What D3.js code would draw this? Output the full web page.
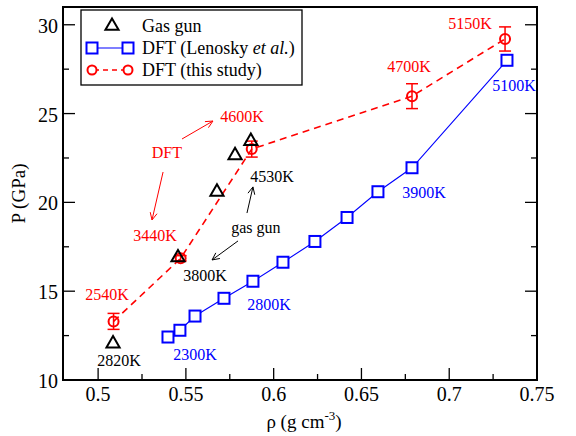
<!DOCTYPE html>
<html>
<head>
<meta charset="utf-8">
<script src="https://cdn.jsdelivr.net/npm/d3@7/dist/d3.min.js"></script>
<style>
  body { margin: 0; background: #fff; }
</style>
</head>
<body>
<div id="chart"></div>
<script>
// gas gun measurements
const gunRho = [0.5085, 0.5455, 0.5677, 0.578, 0.587];
const gunP = [12.1, 16.95, 20.65, 22.7, 23.5];

// DFT (Lenosky et al.)
const lenRho = [0.5398, 0.5466, 0.5552, 0.5717, 0.5882, 0.6053, 0.6235, 0.6418, 0.6594, 0.6788, 0.7329];
const lenP = [12.42, 12.8, 13.6, 14.6, 15.56, 16.63, 17.8, 19.15, 20.6, 21.95, 28.0];

// DFT (this study)
const dftRho = [0.5088, 0.547, 0.5875, 0.6788, 0.7318];
const dftP = [13.3, 16.85, 23.0, 25.98, 29.2];
const dftErr = [0.45, 0.15, 0.45, 0.7, 0.68];

const xTicks = [0.5, 0.55, 0.6, 0.65, 0.7, 0.75];
const yTicks = [10, 15, 20, 25, 30];

// temperature labels [text, rho, P]
const redLabels = [["2540K", 0.5051, 14.5], ["3440K", 0.5324, 17.83], ["4600K", 0.582, 24.53], ["4700K", 0.6771, 27.34], ["5150K", 0.7118, 29.76]];
const blackLabels = [["2820K", 0.5119, 10.79], ["3800K", 0.5609, 15.57], ["4530K", 0.599, 21.15]];
const blueLabels = [["2300K", 0.5552, 11.13], ["2800K", 0.5973, 13.94], ["3900K", 0.6856, 20.25], ["5100K", 0.7369, 26.27]];

function plot (el) {
    const width = 576, height = 436;
    const m = { top: 7, left: 63, right: 39, bottom: 56 };
    const w = width - m.left - m.right;
    const h = height - m.top - m.bottom;

    const svg = d3.select(el).append('svg')
        .attr('width', width)
        .attr('height', height)
        .attr('font-family', '"Liberation Serif", "Times New Roman", Times, serif')
        .style('font-family', '"Liberation Serif", "Times New Roman", Times, serif');

    const x = d3.scaleLinear().domain([0.48, 0.75]).range([0, w]);
    const y = d3.scaleLinear().domain([10, 31]).range([h, 0]);

    const g = svg.append('g')
        .attr('transform', 'translate(' + m.left + ',' + m.top + ')');

    // ticks: left, bottom, right (inward), no top
    const xMinor = d3.range(0.475, 0.751, 0.025).filter(v => v > 0.48 && v < 0.75);
    const yMinor = d3.range(10, 31, 2.5);

    xMinor.forEach(v => {
        const major = xTicks.some(t => Math.abs(t - v) < 1e-6);
        g.append('line')
            .attr('x1', x(v)).attr('x2', x(v))
            .attr('y1', h).attr('y2', h - (major ? 12 : 6))
            .attr('stroke', '#000').attr('stroke-width', 1.3);
    });
    yMinor.forEach(v => {
        const major = yTicks.indexOf(v) >= 0;
        const len = major ? 12 : 6;
        g.append('line')
            .attr('x1', 0).attr('x2', len)
            .attr('y1', y(v)).attr('y2', y(v))
            .attr('stroke', '#000').attr('stroke-width', 1.3);
        g.append('line')
            .attr('x1', w).attr('x2', w - len)
            .attr('y1', y(v)).attr('y2', y(v))
            .attr('stroke', '#000').attr('stroke-width', 1.3);
    });

    g.selectAll('text.xt')
        .data(xTicks)
        .enter()
        .append('text')
        .attr('class', 'xt')
        .attr('x', d => x(d))
        .attr('y', h + 21)
        .attr('text-anchor', 'middle')
        .attr('font-size', 20)
        .text(d => d3.format('~g')(d));

    g.selectAll('text.yt')
        .data(yTicks)
        .enter()
        .append('text')
        .attr('class', 'yt')
        .attr('x', -5)
        .attr('y', d => y(d) + 8)
        .attr('text-anchor', 'end')
        .attr('font-size', 20)
        .text(d => d);

    // axis titles
    const xt = svg.append('text')
        .attr('x', m.left + w / 2 + 4)
        .attr('y', 428)
        .attr('text-anchor', 'middle')
        .attr('font-size', 19);
    xt.append('tspan').text('ρ (g cm');
    xt.append('tspan').attr('font-size', 13).attr('dy', -8).text('-3');
    xt.append('tspan').attr('dy', 8).text(')');

    svg.append('text')
        .attr('transform', 'translate(25,' + (m.top + h / 2) + ') rotate(-90)')
        .attr('text-anchor', 'middle')
        .attr('font-size', 19)
        .text('P (GPa)');

    // Lenosky line + squares
    const lenData = lenRho.map((r, i) => ({ x: r, y: lenP[i] }));
    const line = d3.line().x(d => x(d.x)).y(d => y(d.y));
    g.append('path')
        .datum(lenData)
        .attr('d', line)
        .attr('fill', 'none')
        .attr('stroke', '#0000ff')
        .attr('stroke-width', 1.1);
    g.selectAll('rect.len')
        .data(lenData)
        .enter()
        .append('rect')
        .attr('class', 'len')
        .attr('x', d => x(d.x) - 5.5)
        .attr('y', d => y(d.y) - 5.5)
        .attr('width', 11)
        .attr('height', 11)
        .attr('fill', '#fff')
        .attr('stroke', '#0000ff')
        .attr('stroke-width', 2);

    // this study: dashed line, error bars, circles
    const dftData = dftRho.map((r, i) => ({ x: r, y: dftP[i], e: dftErr[i] }));
    g.append('path')
        .datum(dftData)
        .attr('d', line)
        .attr('fill', 'none')
        .attr('stroke', '#ff0000')
        .attr('stroke-width', 1.6)
        .attr('stroke-dasharray', '7,5');

    const eb = g.selectAll('g.err')
        .data(dftData)
        .enter()
        .append('g')
        .attr('class', 'err')
        .attr('stroke', '#ff0000')
        .attr('stroke-width', 1.5);
    eb.append('line')
        .attr('x1', d => x(d.x)).attr('x2', d => x(d.x))
        .attr('y1', d => y(d.y + d.e)).attr('y2', d => y(d.y - d.e));
    eb.append('line')
        .attr('x1', d => x(d.x) - 6).attr('x2', d => x(d.x) + 6)
        .attr('y1', d => y(d.y + d.e)).attr('y2', d => y(d.y + d.e));
    eb.append('line')
        .attr('x1', d => x(d.x) - 6).attr('x2', d => x(d.x) + 6)
        .attr('y1', d => y(d.y - d.e)).attr('y2', d => y(d.y - d.e));

    g.selectAll('circle.dft')
        .data(dftData)
        .enter()
        .append('circle')
        .attr('class', 'dft')
        .attr('cx', d => x(d.x))
        .attr('cy', d => y(d.y))
        .attr('r', 5)
        .attr('fill', 'none')
        .attr('stroke', '#ff0000')
        .attr('stroke-width', 2);

    // gas gun triangles
    const tri = d3.symbol().type(d3.symbolTriangle).size(75);
    g.selectAll('path.gun')
        .data(gunRho.map((r, i) => ({ x: r, y: gunP[i] })))
        .enter()
        .append('path')
        .attr('class', 'gun')
        .attr('d', tri)
        .attr('transform', d => 'translate(' + x(d.x) + ',' + (y(d.y) + 1) + ')')
        .attr('fill', 'none')
        .attr('stroke', '#000')
        .attr('stroke-width', 2);

    // temperature labels
    function labels (list, color) {
        list.forEach(l => {
            g.append('text')
                .attr('x', x(l[1]))
                .attr('y', y(l[2]))
                .attr('text-anchor', 'middle')
                .attr('font-size', 16)
                .attr('fill', color)
                .text(l[0]);
        });
    }
    labels(redLabels, '#ff0000');
    labels(blackLabels, '#000');
    labels(blueLabels, '#0000ff');

    g.append('text')
        .attr('x', x(0.5392)).attr('y', y(22.5))
        .attr('text-anchor', 'middle')
        .attr('font-size', 16)
        .attr('fill', '#ff0000')
        .text('DFT');
    g.append('text')
        .attr('x', x(0.5899)).attr('y', y(18.28))
        .attr('text-anchor', 'middle')
        .attr('font-size', 16)
        .attr('fill', '#000')
        .text('gas gun');

    // arrows [x1, y1, x2, y2] in data units
    const arrowsRed = [[0.5478, 23.57, 0.5654, 24.58], [0.537, 21.71, 0.5307, 19.01]];
    const arrowsBlack = [[0.5848, 19.4, 0.5882, 20.87], [0.5797, 17.83, 0.5649, 16.76]];
    function arrow (a, color) {
        const x1 = x(a[0]), y1 = y(a[1]), x2 = x(a[2]), y2 = y(a[3]);
        const ang = Math.atan2(y2 - y1, x2 - x1);
        const hl = 8, hw = 0.45;
        g.append('path')
            .attr('d', 'M' + x1 + ',' + y1 + 'L' + x2 + ',' + y2 +
                'M' + (x2 - hl * Math.cos(ang - hw)) + ',' + (y2 - hl * Math.sin(ang - hw)) +
                'L' + x2 + ',' + y2 +
                'L' + (x2 - hl * Math.cos(ang + hw)) + ',' + (y2 - hl * Math.sin(ang + hw)))
            .attr('fill', 'none')
            .attr('stroke', color)
            .attr('stroke-width', 1);
    }
    arrowsRed.forEach(a => arrow(a, '#ff0000'));
    arrowsBlack.forEach(a => arrow(a, '#000'));

    // frame
    g.append('rect')
        .attr('width', w).attr('height', h)
        .attr('fill', 'none')
        .attr('stroke', '#000')
        .attr('stroke-width', 2);

    // legend
    const lg = svg.append('g').attr('transform', 'translate(81,10)');
    lg.append('rect')
        .attr('width', 221).attr('height', 75)
        .attr('fill', '#fff')
        .attr('stroke', '#000')
        .attr('stroke-width', 1.3);
    lg.append('path')
        .attr('d', tri)
        .attr('transform', 'translate(31,16)')
        .attr('fill', 'none').attr('stroke', '#000').attr('stroke-width', 2);
    lg.append('line')
        .attr('x1', 11).attr('x2', 47).attr('y1', 38).attr('y2', 38)
        .attr('stroke', '#0000ff').attr('stroke-width', 1.1);
    [11, 47].forEach(px => {
        lg.append('rect')
            .attr('x', px - 5.5).attr('y', 32.5).attr('width', 11).attr('height', 11)
            .attr('fill', '#fff').attr('stroke', '#0000ff').attr('stroke-width', 2);
    });
    lg.append('line')
        .attr('x1', 11).attr('x2', 47).attr('y1', 60).attr('y2', 60)
        .attr('stroke', '#ff0000').attr('stroke-width', 1.6)
        .attr('stroke-dasharray', '5,4').attr('stroke-dashoffset', -2);
    [11, 47].forEach(px => {
        lg.append('circle')
            .attr('cx', px).attr('cy', 60).attr('r', 4.5)
            .attr('fill', '#fff').attr('stroke', '#ff0000').attr('stroke-width', 2);
    });
    lg.append('text').attr('x', 61).attr('y', 22).attr('font-size', 18).text('Gas gun');
    const t2 = lg.append('text').attr('x', 61).attr('y', 44).attr('font-size', 18);
    t2.append('tspan').text('DFT (Lenosky ');
    t2.append('tspan').attr('font-style', 'italic').text('et al.');
    t2.append('tspan').text(')');
    lg.append('text').attr('x', 61).attr('y', 66).attr('font-size', 18).text('DFT (this study)');
}

plot(document.getElementById('chart'));
</script>
</body>
</html>
